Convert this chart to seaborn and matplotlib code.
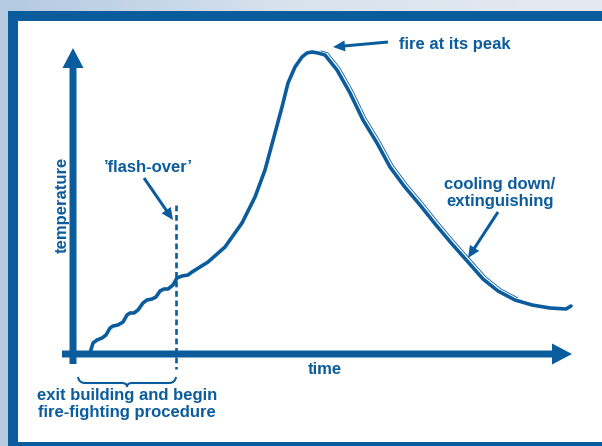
import numpy as np
import pandas as pd
import seaborn as sns
import matplotlib
matplotlib.use("Agg")
import matplotlib.pyplot as plt
from matplotlib.patches import Rectangle, PathPatch
from matplotlib.path import Path
import matplotlib.transforms as mtransforms

BLUE = "#0b5c9c"

# fire curve
# time = px right of the temperature axis, temperature = px above the time axis
growth_time = [17, 20, 24, 29, 33, 37, 40, 45, 50, 54, 57, 61, 65, 70, 74, 79,
               83, 87, 91, 95, 100, 104]
growth_temp = [1, 11, 14, 16, 19, 26, 28, 29, 32, 39, 41, 41, 44, 51, 54, 55,
               57, 63, 65, 65, 69, 76]
fire_time = [109, 115, 119, 135, 152, 169, 182, 192, 202, 209, 215, 222, 229, 234,
             239, 245, 252, 264, 277, 290, 304, 317, 331, 347, 363, 379, 395, 410,
             425, 442, 459, 477, 493, 498]
fire_temp = [78, 79, 82, 92, 107, 131, 157, 184, 221, 247, 271, 287, 297, 301,
             302, 301, 299, 284, 261, 234, 211, 187, 168, 149, 129, 110, 92, 75,
             63, 54, 49, 46, 45, 48]
flashover_time = 103

df = pd.DataFrame({
    "time": growth_time + fire_time,
    "temperature": growth_temp + fire_temp,
})

sns.set_theme(style="white")
plt.rcParams["font.family"] = ["Liberation Sans Narrow", "Liberation Sans", "DejaVu Sans"]

fig = plt.figure(figsize=(6.02, 4.46), dpi=100)

# backdrop + frame
bg = fig.add_axes([0, 0, 1, 1], zorder=-2)
grad = np.linspace(0, 1, 200)[None, :] * np.ones((50, 1))
bg.imshow(grad, cmap=matplotlib.colors.LinearSegmentedColormap.from_list(
    "bgc", ["#b3cae2", "#d9e3ed", "#e4eaf1"]), aspect="auto", extent=[0, 1, 0, 1])
bg.set_xlim(0, 1)
bg.set_ylim(0, 1)
bg.axis("off")
W, H = 602, 446
fig.add_artist(Rectangle((8 / W, 0), 1, 1 - 11 / H, transform=fig.transFigure,
                         color=BLUE, lw=0, zorder=-1))
fig.add_artist(Rectangle((18 / W, 4 / H), 1, 1 - 25 / H, transform=fig.transFigure,
                         color="white", lw=0, zorder=-1))

ax = fig.add_axes([0, 0, 1, 1])
ax.set_xlim(-73, 529)
ax.set_ylim(-92, 354)
ax.axis("off")

# axes arrows
ax.arrow(0, -10, 0, 316, width=7, head_width=21, head_length=20,
         length_includes_head=True, color=BLUE, lw=0, zorder=3)
ax.arrow(-11, 0, 510, 0, width=7, head_width=21, head_length=20,
         length_includes_head=True, color=BLUE, lw=0, zorder=3)

# curve
sns.lineplot(data=df, x="time", y="temperature", sort=False, estimator=None,
             color=BLUE, lw=2.6, ax=ax, zorder=4,
             solid_capstyle="round", solid_joinstyle="round")
# thin echo line on the falling side
off = mtransforms.offset_copy(ax.transData, fig=fig, x=2.8, y=2.2, units="dots")
ax.plot(fire_time[15:30], fire_temp[15:30], color=BLUE, lw=0.6, transform=off, zorder=4)

# flash-over marker
ax.plot([flashover_time, flashover_time], [149, -15], color=BLUE, lw=1.9,
        ls=(0, (2.2, 1.4)), zorder=2)

# brace under the escape window
b0, b1, bt = 5, flashover_time, -23
mid = (b0 + b1) / 2
verts = [(b0, bt), (b0 + 1, bt - 6), (b0 + 7, bt - 6), (mid - 5, bt - 6),
         (mid, bt - 6), (mid, bt - 10), (mid, bt - 6), (mid + 5, bt - 6),
         (b1 - 7, bt - 6), (b1 - 1, bt - 6), (b1, bt)]
codes = [Path.MOVETO, Path.CURVE3, Path.CURVE3, Path.LINETO,
         Path.CURVE3, Path.CURVE3, Path.CURVE3, Path.CURVE3,
         Path.LINETO, Path.CURVE3, Path.CURVE3]
ax.add_patch(PathPatch(Path(verts, codes), fill=False, ec=BLUE, lw=1.5))

txt = dict(color=BLUE, fontsize=12, fontweight="bold", ha="center", va="center")
ax.text(54, -50, "exit building and begin\nfire-fighting procedure", linespacing=1.2, **txt)
ax.text(252, -16, "time", **txt)
ax.text(-11, 149, "temperature", rotation=90, **txt)
ax.text(75, 186, "’flash-over’", **txt)
ax.text(382, 310, "fire at its peak", **txt)
ax.text(427, 161, "cooling down/\nextinguishing", linespacing=1.2, **txt)

# pointer arrows
ax.arrow(315, 312, -55, -5, width=3, head_width=11, head_length=12,
         length_includes_head=True, color=BLUE, lw=0)
ax.arrow(71, 176, 29, -42, width=3, head_width=11, head_length=12,
         length_includes_head=True, color=BLUE, lw=0)
ax.arrow(425, 142, -30, -46, width=3, head_width=11, head_length=12,
         length_includes_head=True, color=BLUE, lw=0)

fig.savefig("out.png", dpi=100)
